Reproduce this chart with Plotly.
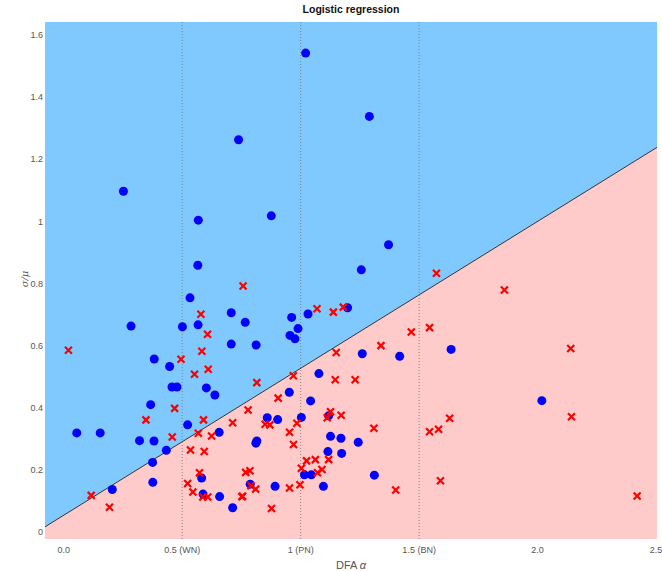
import plotly.graph_objects as go

# ---- data ----
blue_x = [0.252, 0.568, 0.738, 0.876, 1.021, 1.290, 0.566, 0.533, 0.284, 0.501,
          0.567, 0.707, 0.766, 0.707, 0.812, 0.382, 0.447, 0.457, 0.478, 0.602,
          0.638, 0.367, 0.523, 1.371, 1.256, 1.198, 1.031, 0.962, 0.989, 0.955,
          0.976, 1.260, 1.418, 1.635, 1.077, 0.952, 1.042, 0.859, 0.903, 1.003,
          1.118, 1.126, 1.170, 1.243, 0.815, 0.811, 1.115, 1.173, 1.016, 1.045,
          1.311, 0.787, 0.892, 1.096, 0.055, 0.154, 0.320, 0.381, 0.433, 0.656,
          0.375, 0.582, 0.376, 0.205, 0.588, 0.658, 0.713, 2.018]
blue_y = [1.097, 1.004, 1.263, 1.018, 1.542, 1.338, 0.859, 0.754, 0.663, 0.661,
          0.667, 0.706, 0.675, 0.605, 0.602, 0.557, 0.533, 0.467, 0.467, 0.464,
          0.441, 0.410, 0.345, 0.925, 0.844, 0.722, 0.702, 0.691, 0.655, 0.633,
          0.622, 0.574, 0.566, 0.588, 0.510, 0.450, 0.422, 0.368, 0.362, 0.369,
          0.374, 0.308, 0.302, 0.289, 0.293, 0.286, 0.259, 0.253, 0.184, 0.184,
          0.183, 0.154, 0.147, 0.147, 0.319, 0.319, 0.294, 0.293, 0.263, 0.321,
          0.224, 0.174, 0.160, 0.137, 0.122, 0.114, 0.078, 0.423]

red_x = [0.757, 0.579, 0.607, 0.020, 0.583, 0.495, 0.552, 0.610, 0.815, 0.468,
         0.778, 0.347, 0.590, 0.713, 1.573, 1.069, 1.138, 1.180, 1.544, 1.467,
         1.339, 1.150, 0.969, 1.146, 1.230, 0.905, 1.126, 1.112, 1.171, 1.629,
         0.850, 0.870, 0.984, 0.953, 1.309, 1.544, 1.582, 0.970, 1.025, 1.062,
         1.118, 0.768, 0.786, 1.003, 1.071, 1.090, 0.790, 0.810, 0.953, 0.997,
         0.755, 0.877, 1.401, 1.590, 0.458, 0.568, 0.624, 0.535, 0.593, 0.573,
         0.523, 0.545, 0.587, 0.608, 0.752, 0.116, 0.193, 1.860, 2.140, 2.143,
         2.420]
red_y = [0.792, 0.701, 0.637, 0.585, 0.582, 0.556, 0.508, 0.524, 0.481, 0.398,
         0.393, 0.361, 0.361, 0.352, 0.833, 0.719, 0.708, 0.724, 0.658, 0.644,
         0.600, 0.578, 0.503, 0.490, 0.490, 0.431, 0.387, 0.368, 0.376, 0.366,
         0.347, 0.345, 0.350, 0.321, 0.334, 0.323, 0.331, 0.282, 0.229, 0.233,
         0.233, 0.192, 0.197, 0.205, 0.191, 0.201, 0.149, 0.138, 0.142, 0.152,
         0.115, 0.076, 0.135, 0.165, 0.306, 0.318, 0.309, 0.264, 0.259, 0.191,
         0.156, 0.129, 0.113, 0.113, 0.114, 0.118, 0.080, 0.779, 0.591, 0.371,
         0.116]

# decision boundary y = b0 + b1 * x
boundary = [0.054, 0.473]
ref_lines = [0.5, 1.0, 1.5]

x_ticks = [0, 0.5, 1, 1.5, 2, 2.5]
x_ticktext = ["0.0", "0.5 (WN)", "1 (PN)", "1.5 (BN)", "2.0", "2.5"]
y_ticks = [0, 0.2, 0.4, 0.6, 0.8, 1.0, 1.2, 1.4, 1.6]
y_ticktext = ["0", "0.2", "0.4", "0.6", "0.8", "1", "1.2", "1.4", "1.6"]

X_RANGE = [-0.079, 2.504]
Y_RANGE = [-0.0225, 1.642]

def bnd(x):
    return boundary[0] + boundary[1] * x

xl, xr = X_RANGE
yb, yt = Y_RANGE

fig = go.Figure()
# blue region (above boundary)
fig.add_trace(go.Scatter(
    x=[xl, xr, xr, xl, xl], y=[bnd(xl), bnd(xr), yt, yt, bnd(xl)],
    fill="toself", fillcolor="rgb(128,201,255)", mode="none",
    hoverinfo="skip", showlegend=False))
# pink region (below boundary)
fig.add_trace(go.Scatter(
    x=[xl, xr, xr, xl, xl], y=[bnd(xl), bnd(xr), yb, yb, bnd(xl)],
    fill="toself", fillcolor="rgb(255,202,202)", mode="none",
    hoverinfo="skip", showlegend=False))
# boundary line
fig.add_trace(go.Scatter(
    x=[xl, xr], y=[bnd(xl), bnd(xr)], mode="lines",
    line=dict(color="#333333", width=1), hoverinfo="skip", showlegend=False))
# dotted reference lines
for v in ref_lines:
    fig.add_trace(go.Scatter(
        x=[v, v], y=[yb, yt], mode="lines",
        line=dict(color="#7a7a7a", width=0.9, dash="1px,2px"),
        hoverinfo="skip", showlegend=False))

fig.add_trace(go.Scatter(
    x=blue_x, y=blue_y, mode="markers",
    marker=dict(symbol="circle", size=9, color="#0000ff", line=dict(width=0)),
    showlegend=False))
fig.add_trace(go.Scatter(
    x=red_x, y=red_y, mode="markers",
    marker=dict(symbol="x-thin", size=7, color="#ff0000",
                line=dict(width=2.2, color="#ff0000")),
    showlegend=False))

tick_font = dict(family="Liberation Sans, Arial, sans-serif", size=9, color="#555555")

fig.update_layout(
    width=662, height=571,
    margin=dict(l=45, r=5, t=22, b=32, autoexpand=False),
    paper_bgcolor="white", plot_bgcolor="white",
    title=dict(text="<b>Logistic regression</b>", x=0.5, xanchor="center",
               xref="paper", y=1, yref="container", yanchor="top", pad=dict(t=6),
               font=dict(family="Liberation Sans, Arial, sans-serif", size=10.5, color="#111111")),
    xaxis=dict(range=X_RANGE, tickvals=x_ticks, ticktext=x_ticktext,
               showgrid=False, zeroline=False, showline=False, ticks="",
               tickfont=tick_font, automargin=False, ticklabelstandoff=4,
               ticklabeloverflow="allow",
               title=dict(text="DFA <i>α</i>", standoff=8,
                          font=dict(family="Liberation Sans, Arial, sans-serif",
                                    size=11, color="#555555"))),
    yaxis=dict(range=Y_RANGE, tickvals=y_ticks, ticktext=y_ticktext,
               showgrid=False, zeroline=False, showline=False, ticks="",
               tickfont=tick_font, automargin=False, ticklabelstandoff=1),
    annotations=[dict(text="<i>σ/μ</i>", xref="paper", yref="y", x=0, y=0.815,
                      xshift=-28, showarrow=False, textangle=-90,
                      font=dict(family="DejaVu Serif, serif", size=10, color="#555555"))],
)

fig.write_html("out.html", config={"displayModeBar": False},
               post_script="document.body.style.margin='0px';document.body.style.overflow='hidden';")
